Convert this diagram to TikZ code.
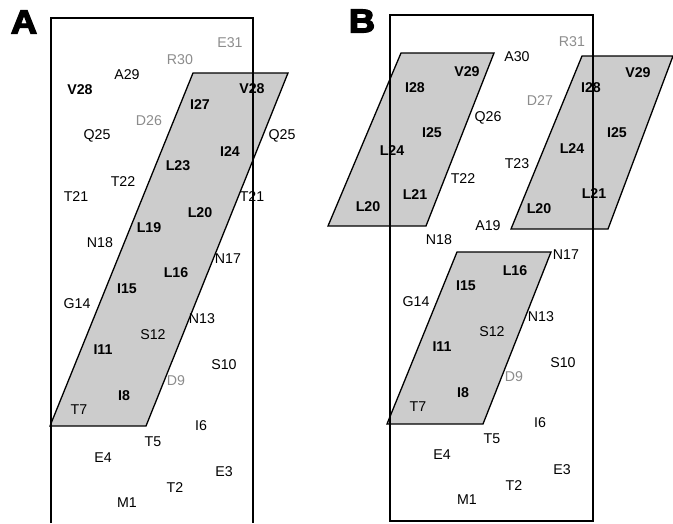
\documentclass[tikz,border=0pt]{standalone}
\usepackage{fontspec}
\setmainfont{Liberation Sans}
\newfontfamily\heavyfont[FakeBold=4]{Liberation Sans}
\begin{document}
\begin{tikzpicture}[x=1pt,y=-1pt,
  res/.style={font=\fontsize{14.2}{15}\selectfont, inner sep=0pt},
  core/.style={res, font=\fontsize{14.2}{15}\selectfont\bfseries},
  polar/.style={res, text=gray!90},
  panel/.style={font=\fontsize{33}{34}\heavyfont\bfseries, inner sep=0pt, xscale=1.1},
  sheet/.style={fill=black!20, draw=none},
  sheetline/.style={draw=black, line width=1.3pt, line join=miter},
  frame/.style={draw=black, line width=1.3pt}]
\useasboundingbox (0,0) rectangle (673,523);

% ---------- panel A ----------
\fill[sheet] (193,73) -- (288,73) -- (146,426) -- (50,426) -- cycle;
\draw[frame] (51,523) -- (51,18) -- (253,18) -- (253,523);
\draw[sheetline] (193,73) -- (288,73) -- (146,426) -- (50,426) -- cycle;

\node[panel] (pA) at (24,22) {A};
\node[polar] (aE31) at (230,43) {E31};
\node[polar] (aR30) at (180,60) {R30};
\node[res]   (aA29) at (127,75) {A29};
\node[core]  (aV28) at (80,90) {V28};
\node[core]  (aV28r) at (252,89) {V28};
\node[core]  (aI27) at (200,105) {I27};
\node[polar] (aD26) at (149,121) {D26};
\node[res]   (aQ25) at (97,136) {Q25};
\node[res]   (aQ25r) at (282,136) {Q25};
\node[core]  (aI24) at (230,152) {I24};
\node[core]  (aL23) at (178,166) {L23};
\node[res]   (aT22) at (123,182) {T22};
\node[res]   (aT21) at (76,197) {T21};
\node[res]   (aT21r) at (252,197) {T21};
\node[core]  (aL20) at (200,213) {L20};
\node[core]  (aL19) at (149,228) {L19};
\node[res]   (aN18) at (100,243) {N18};
\node[res]   (aN17) at (228,259) {N17};
\node[core]  (aL16) at (176,273) {L16};
\node[core]  (aI15) at (127,289) {I15};
\node[res]   (aG14) at (77,304) {G14};
\node[res]   (aN13) at (202,319) {N13};
\node[res]   (aS12) at (153,335) {S12};
\node[core]  (aI11) at (103,350) {I11};
\node[res]   (aS10) at (224,365) {S10};
\node[polar] (aD9)  at (176,381) {D9};
\node[core]  (aI8)  at (124,396) {I8};
\node[res]   (aT7)  at (79,410) {T7};
\node[res]   (aI6)  at (201,426) {I6};
\node[res]   (aT5)  at (153,442) {T5};
\node[res]   (aE4)  at (103,458) {E4};
\node[res]   (aE3)  at (224,472) {E3};
\node[res]   (aT2)  at (175,488) {T2};
\node[res]   (aM1)  at (127,503) {M1};

% ---------- panel B ----------
\fill[sheet] (401,53) -- (494,53) -- (426,226) -- (328,226) -- cycle;
\fill[sheet] (582,56) -- (673,56) -- (608,229) -- (511,229) -- cycle;
\fill[sheet] (457,252) -- (551,252) -- (483,424) -- (387,424) -- cycle;
\draw[frame] (390,15) rectangle (593,521);
\draw[sheetline] (401,53) -- (494,53) -- (426,226) -- (328,226) -- cycle;
\draw[sheetline] (582,56) -- (673,56) -- (608,229) -- (511,229) -- cycle;
\draw[sheetline] (457,252) -- (551,252) -- (483,424) -- (387,424) -- cycle;

\node[panel] (pB) at (362,21) {B};
\node[polar] (bR31) at (572,42) {R31};
\node[res]   (bA30) at (517,57) {A30};
\node[core]  (bV29) at (467,72) {V29};
\node[core]  (bI28) at (415,88) {I28};
\node[polar] (bD27) at (540,101) {D27};
\node[res]   (bQ26) at (488,118) {Q26};
\node[core]  (bI25) at (432,133) {I25};
\node[core]  (bL24) at (392,151) {L24};
\node[res]   (bT23) at (517,164) {T23};
\node[res]   (bT22) at (463,179) {T22};
\node[core]  (bL21) at (415,195) {L21};
\node[core]  (bL20) at (368,207) {L20};
\node[core]  (bV29r) at (638,73) {V29};
\node[core]  (bI28r) at (591,88) {I28};
\node[core]  (bI25r) at (617,133) {I25};
\node[core]  (bL24r) at (572,149) {L24};
\node[core]  (bL21r) at (594,194) {L21};
\node[core]  (bL20r) at (539,209) {L20};
\node[res]   (bA19) at (488,226) {A19};
\node[res]   (bN18) at (439,240) {N18};
\node[res]   (bN17) at (566,255) {N17};
\node[core]  (bL16) at (515,271) {L16};
\node[core]  (bI15) at (466,286) {I15};
\node[res]   (bG14) at (416,302) {G14};
\node[res]   (bN13) at (541,317) {N13};
\node[res]   (bS12) at (492,332) {S12};
\node[core]  (bI11) at (442,347) {I11};
\node[res]   (bS10) at (563,363) {S10};
\node[polar] (bD9)  at (514,377) {D9};
\node[core]  (bI8)  at (463,393) {I8};
\node[res]   (bT7)  at (418,407) {T7};
\node[res]   (bI6)  at (540,423) {I6};
\node[res]   (bT5)  at (492,439) {T5};
\node[res]   (bE4)  at (442,455) {E4};
\node[res]   (bE3)  at (562,470) {E3};
\node[res]   (bT2)  at (514,486) {T2};
\node[res]   (bM1)  at (467,500) {M1};
\end{tikzpicture}
\end{document}
